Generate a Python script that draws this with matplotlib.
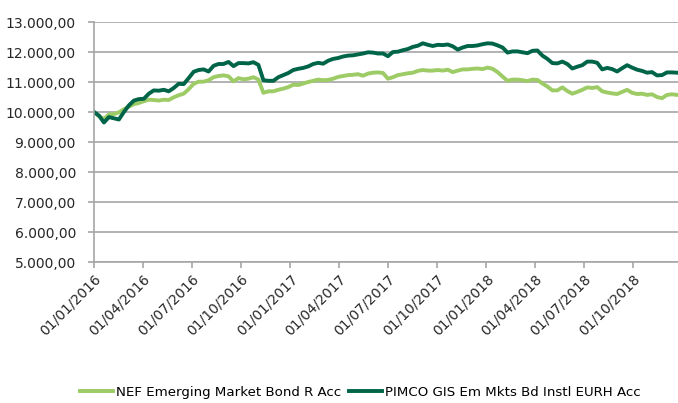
import matplotlib
matplotlib.use("Agg")
import matplotlib.pyplot as plt
from matplotlib.ticker import FuncFormatter
import pandas as pd

plt.rcParams['font.family'] = ['DejaVu Sans']

series_names = ["NEF Emerging Market Bond R Acc", "PIMCO GIS Em Mkts Bd Instl EURH Acc"]

nef = [10000, 9860, 9770, 9920, 9930, 9990, 10090, 10180, 10260, 10300,
       10360, 10410, 10400, 10380, 10410, 10400, 10490, 10560, 10610, 10760,
       10940, 11010, 11010, 11060, 11160, 11200, 11220, 11190, 11020, 11130,
       11090, 11110, 11160, 11080, 10640, 10690, 10690, 10740, 10780, 10830,
       10910, 10900, 10950, 11000, 11040, 11080, 11060, 11070, 11110, 11170,
       11200, 11230, 11240, 11260, 11210, 11280, 11310, 11320, 11300, 11110,
       11160, 11230, 11260, 11290, 11310, 11370, 11400, 11380, 11380, 11400,
       11380, 11410, 11330, 11380, 11420, 11420, 11440, 11450, 11430, 11480,
       11440, 11330, 11180, 11040, 11080, 11080, 11060, 11030, 11080, 11070,
       10950, 10850, 10720, 10720, 10820, 10700, 10610, 10670, 10740, 10820,
       10800, 10830, 10690, 10650, 10620, 10600, 10670, 10740, 10640, 10600,
       10610, 10570, 10590, 10500, 10460, 10570, 10590, 10570]

pimco = [10000, 9880, 9650, 9830, 9790, 9750, 10000, 10220, 10380, 10430,
         10440, 10610, 10720, 10710, 10740, 10690, 10800, 10940, 10930, 11130,
         11340, 11400, 11420, 11350, 11540, 11600, 11600, 11670, 11530, 11630,
         11630, 11620, 11660, 11570, 11060, 11040, 11040, 11160, 11230, 11300,
         11400, 11440, 11470, 11520, 11600, 11640, 11610, 11710, 11770, 11800,
         11850, 11880, 11890, 11920, 11950, 11990, 11980, 11950, 11950, 11860,
         12000, 12010, 12060, 12100, 12170, 12210, 12290, 12240, 12200, 12240,
         12230, 12250, 12190, 12080, 12150, 12200, 12200, 12220, 12260, 12290,
         12280, 12220, 12150, 11980, 12020, 12020, 11990, 11960, 12040, 12050,
         11880, 11770, 11630, 11620, 11680, 11600, 11450, 11510, 11560, 11680,
         11680, 11640, 11420, 11470, 11430, 11350, 11460, 11560, 11480, 11410,
         11370, 11310, 11330, 11220, 11230, 11320, 11320, 11310]

start_date = "2016-01-01"
end_date = "2018-12-22"
dates = pd.date_range(start_date, end_date, periods=len(nef))

tick_dates = ["2016-01-01", "2016-04-01", "2016-07-01", "2016-10-01",
              "2017-01-01", "2017-04-01", "2017-07-01", "2017-10-01",
              "2018-01-01", "2018-04-01", "2018-07-01", "2018-10-01"]
y_ticks = [5000, 6000, 7000, 8000, 9000, 10000, 11000, 12000, 13000]

light = "#9DCB65"
dark = "#006548"
grid_c = "#A6A6A6"

fig = plt.figure(figsize=(6.78, 4.03), dpi=100)
ax = fig.add_axes([94/678, 1-262/403, 1-94/678, 240/403])

ax.plot(dates, nef, color=light, lw=2.8, label=series_names[0], solid_joinstyle='round')
ax.plot(dates, pimco, color=dark, lw=2.8, label=series_names[1], solid_joinstyle='round')

ax.set_ylim(5000, 13000)
ax.set_yticks(y_ticks)
ax.yaxis.set_major_formatter(FuncFormatter(
    lambda v, p: f"{v:,.2f}".replace(",", "X").replace(".", ",").replace("X", ".")))
ax.set_xlim(pd.Timestamp("2016-01-01"), pd.Timestamp("2018-12-24"))
tds = pd.to_datetime(tick_dates)
ax.set_xticks(tds)
ax.set_xticklabels([d.strftime("%d/%m/%Y") for d in tds], rotation=45,
                   ha='right', rotation_mode='anchor', fontsize=9)

ax.grid(axis='y', color=grid_c, lw=1.2)
ax.set_axisbelow(True)
for s in ['top', 'right']:
    ax.spines[s].set_visible(False)
for s in ['left', 'bottom']:
    ax.spines[s].set_color(grid_c)
    ax.spines[s].set_linewidth(1.2)
ax.tick_params(axis='both', colors=grid_c, length=4, width=1.2, labelsize=10,
               labelcolor='#262626')
ax.tick_params(axis='x', pad=3)
ax.tick_params(axis='y', pad=9)

fig.legend(loc='lower center', bbox_to_anchor=(0.531, -0.02), ncol=2, frameon=False,
           fontsize=9.6, handlelength=2.5, handletextpad=0.2, columnspacing=0.6)

fig.savefig("out.png", dpi=100)
